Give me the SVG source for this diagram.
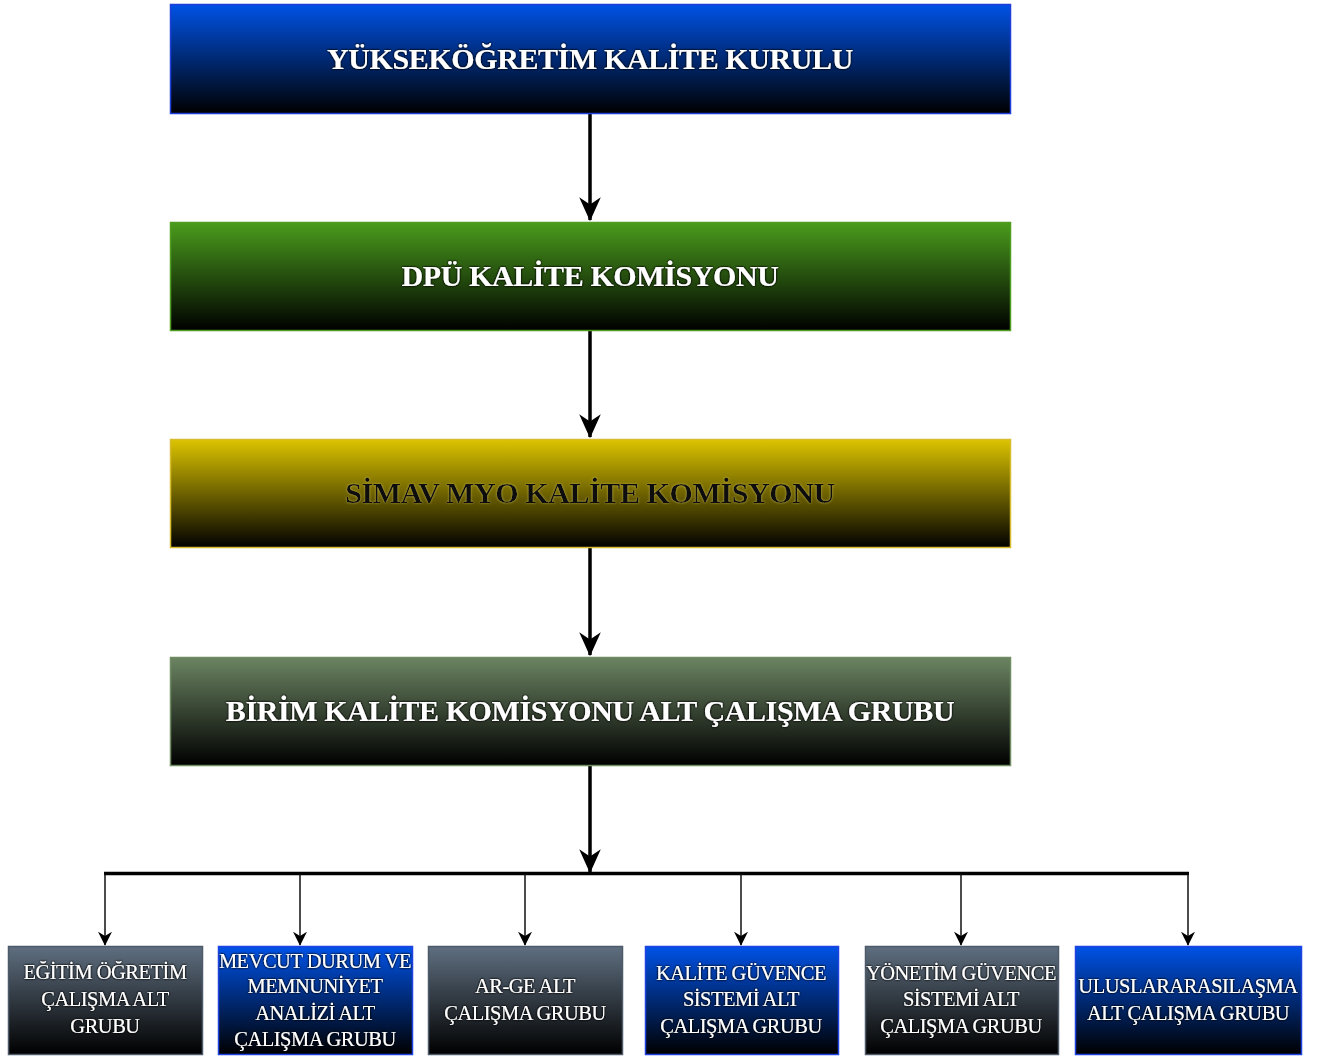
<svg xmlns="http://www.w3.org/2000/svg" width="1322" height="1057" viewBox="0 0 1322 1057">
<defs>
<linearGradient id="gBlue" x1="0" y1="0" x2="0" y2="1"><stop offset="0" stop-color="#0052e6"/><stop offset="1" stop-color="#000000"/></linearGradient>
<linearGradient id="gGreen" x1="0" y1="0" x2="0" y2="1"><stop offset="0" stop-color="#4a9c1c"/><stop offset="1" stop-color="#000000"/></linearGradient>
<linearGradient id="gYellow" x1="0" y1="0" x2="0" y2="1"><stop offset="0" stop-color="#dcc400"/><stop offset="1" stop-color="#000000"/></linearGradient>
<linearGradient id="gOlive" x1="0" y1="0" x2="0" y2="1"><stop offset="0" stop-color="#6b8462"/><stop offset="1" stop-color="#000000"/></linearGradient>
<linearGradient id="gGrey" x1="0" y1="0" x2="0" y2="1"><stop offset="0" stop-color="#5f6f80"/><stop offset="1" stop-color="#000000"/></linearGradient>
<filter id="glow" x="-10%" y="-30%" width="120%" height="160%">
<feGaussianBlur in="SourceAlpha" stdDeviation="1.2" result="b"/>
<feFlood flood-color="#000" flood-opacity="0.9"/>
<feComposite in2="b" operator="in" result="s"/>
<feMerge><feMergeNode in="s"/><feMergeNode in="s"/><feMergeNode in="SourceGraphic"/></feMerge>
</filter>
<filter id="glowLight" x="-10%" y="-30%" width="120%" height="160%">
<feGaussianBlur in="SourceAlpha" stdDeviation="1" result="b"/>
<feFlood flood-color="#e8d870" flood-opacity="0.6"/>
<feComposite in2="b" operator="in" result="s"/>
<feMerge><feMergeNode in="s"/><feMergeNode in="SourceGraphic"/></feMerge>
</filter>
<marker id="ahBig" viewBox="0 0 10 10" refX="9.5" refY="5" markerWidth="24" markerHeight="24" markerUnits="userSpaceOnUse" orient="auto"><path d="M0,0.5 L10,5 L0,9.5 L3,5 Z" fill="#000"/></marker>
<marker id="ahSmall" viewBox="0 0 10 10" refX="9.5" refY="5" markerWidth="14" markerHeight="14" markerUnits="userSpaceOnUse" orient="auto"><path d="M0,0 L10,5 L0,10 L3,5 Z" fill="#000"/></marker>
</defs>
<style>
.big{font-family:"Liberation Serif","Times New Roman",serif;font-weight:bold;font-size:30px;fill:#fff;text-anchor:middle;filter:url(#glow);letter-spacing:-0.4px}
.dark{fill:#111;filter:url(#glowLight)}
.small{font-family:"Liberation Serif","Times New Roman",serif;font-size:20.5px;fill:#fff;text-anchor:middle;filter:url(#glow);letter-spacing:-0.5px}
.thick{stroke:#000;stroke-width:3.5;fill:none}
.thin{stroke:#111;stroke-width:1.5;fill:none}
</style>
<rect width="1322" height="1057" fill="#fff"/>
<g id="connectors">
<line class="thick" x1="590" y1="114" x2="590" y2="220" marker-end="url(#ahBig)"/>
<line class="thick" x1="590" y1="331" x2="590" y2="437" marker-end="url(#ahBig)"/>
<line class="thick" x1="590" y1="548" x2="590" y2="655" marker-end="url(#ahBig)"/>
<line class="thick" x1="590" y1="766" x2="590" y2="872" marker-end="url(#ahBig)"/>
<line class="thick" x1="104" y1="873.5" x2="1189" y2="873.5"/>
<line class="thin" x1="105" y1="874" x2="105" y2="945" marker-end="url(#ahSmall)"/>
<line class="thin" x1="300" y1="874" x2="300" y2="945" marker-end="url(#ahSmall)"/>
<line class="thin" x1="525" y1="874" x2="525" y2="945" marker-end="url(#ahSmall)"/>
<line class="thin" x1="741" y1="874" x2="741" y2="945" marker-end="url(#ahSmall)"/>
<line class="thin" x1="961" y1="874" x2="961" y2="945" marker-end="url(#ahSmall)"/>
<line class="thin" x1="1188" y1="874" x2="1188" y2="945" marker-end="url(#ahSmall)"/>
</g>
<g id="n1"><rect x="170.5" y="4.5" width="840" height="109" fill="url(#gBlue)" stroke="#1f3fd8" stroke-width="1.5"/><text class="big" x="590" y="69">YÜKSEKÖĞRETİM KALİTE KURULU</text></g>
<g id="n2"><rect x="170.5" y="222.5" width="840" height="108" fill="url(#gGreen)" stroke="#4f9e22" stroke-width="1.5"/><text class="big" x="590" y="286">DPÜ KALİTE KOMİSYONU</text></g>
<g id="n3"><rect x="170.5" y="439.5" width="840" height="108" fill="url(#gYellow)" stroke="#d8bc30" stroke-width="1.5"/><text class="big dark" x="590" y="503">SİMAV MYO KALİTE KOMİSYONU</text></g>
<g id="n4"><rect x="170.5" y="657.5" width="840" height="108" fill="url(#gOlive)" stroke="#6f8c62" stroke-width="1.5"/><text class="big" x="590" y="721">BİRİM KALİTE KOMİSYONU ALT ÇALIŞMA GRUBU</text></g>
<g id="s1"><rect x="8.5" y="946.5" width="194" height="108" fill="url(#gGrey)" stroke="#4c5a6a" stroke-width="1.5"/>
<text class="small"><tspan x="105" y="979">EĞİTİM ÖĞRETİM</tspan><tspan x="105" y="1006">ÇALIŞMA ALT</tspan><tspan x="105" y="1033">GRUBU</tspan></text></g>
<g id="s2"><rect x="218.5" y="946.5" width="194" height="108" fill="url(#gBlue)" stroke="#1f42e0" stroke-width="1.5"/>
<text class="small"><tspan x="315" y="968">MEVCUT DURUM VE</tspan><tspan x="315" y="993">MEMNUNİYET</tspan><tspan x="315" y="1020">ANALİZİ ALT</tspan><tspan x="315" y="1046">ÇALIŞMA GRUBU</tspan></text></g>
<g id="s3"><rect x="428.5" y="946.5" width="194" height="108" fill="url(#gGrey)" stroke="#4c5a6a" stroke-width="1.5"/>
<text class="small"><tspan x="525" y="993">AR-GE ALT</tspan><tspan x="525" y="1020">ÇALIŞMA GRUBU</tspan></text></g>
<g id="s4"><rect x="645.5" y="946.5" width="193" height="108" fill="url(#gBlue)" stroke="#1f42e0" stroke-width="1.5"/>
<text class="small"><tspan x="741" y="980">KALİTE GÜVENCE</tspan><tspan x="741" y="1006">SİSTEMİ ALT</tspan><tspan x="741" y="1033">ÇALIŞMA GRUBU</tspan></text></g>
<g id="s5"><rect x="865.5" y="946.5" width="193" height="108" fill="url(#gGrey)" stroke="#4c5a6a" stroke-width="1.5"/>
<text class="small"><tspan x="961" y="980">YÖNETİM GÜVENCE</tspan><tspan x="961" y="1006">SİSTEMİ ALT</tspan><tspan x="961" y="1033">ÇALIŞMA GRUBU</tspan></text></g>
<g id="s6"><rect x="1075.5" y="946.5" width="226" height="108" fill="url(#gBlue)" stroke="#1f42e0" stroke-width="1.5"/>
<text class="small"><tspan x="1188" y="993">ULUSLARARASILAŞMA</tspan><tspan x="1188" y="1020">ALT ÇALIŞMA GRUBU</tspan></text></g>
</svg>
